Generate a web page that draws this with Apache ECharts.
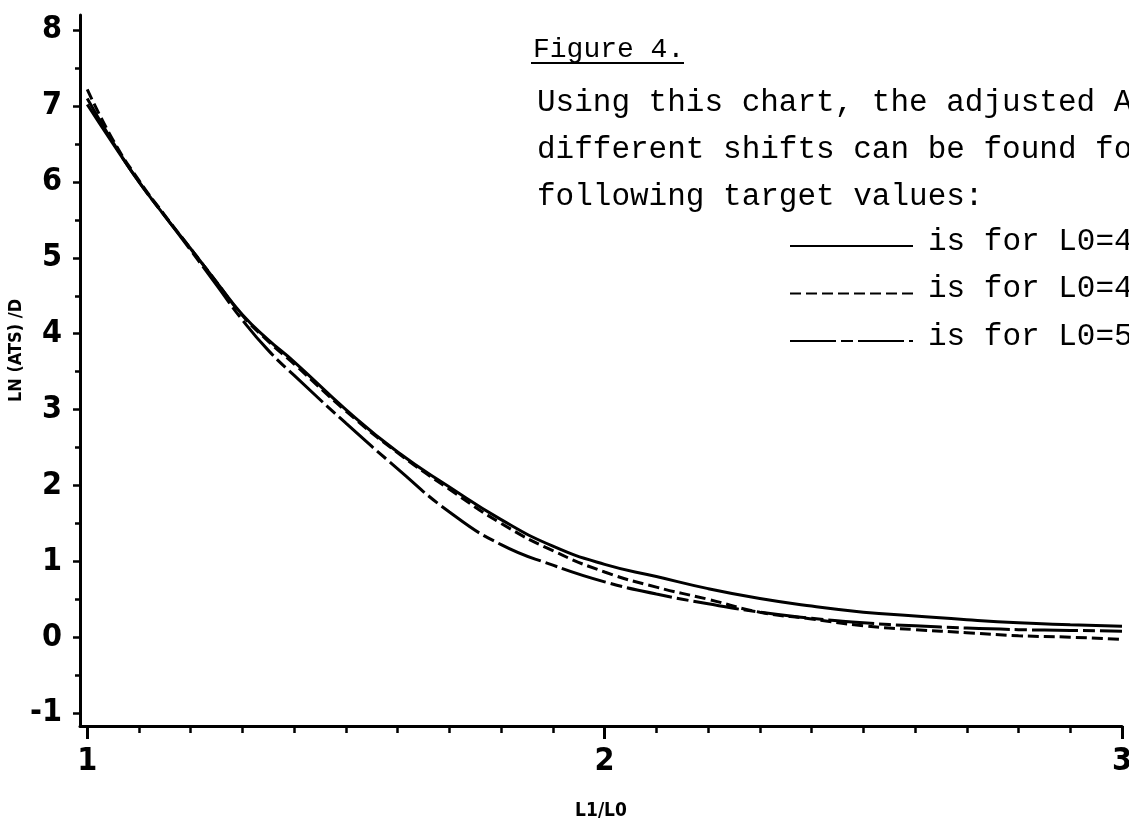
<!doctype html>
<html>
<head>
<meta charset="utf-8">
<script src="https://cdn.jsdelivr.net/npm/echarts@6/dist/echarts.min.js"></script>
<style>
    html, body {margin: 0; padding: 0; background: #fff;}
    #chart {width: 1129px; height: 840px;}
</style>
</head>
<body>
<div id="chart"></div>
<script>
    // values
    var xs      = [1.0, 1.05, 1.1, 1.15, 1.2, 1.25, 1.3, 1.35, 1.4, 1.5, 1.6, 1.7, 1.8, 1.9, 2.0, 2.1, 2.2, 2.3, 2.4, 2.5, 2.6, 2.7, 2.8, 2.9, 3.0];
    var solidY  = [7.02, 6.5, 6.0, 5.55, 5.12, 4.68, 4.25, 3.92, 3.63, 3.0, 2.44, 1.98, 1.55, 1.2, 0.96, 0.8, 0.64, 0.51, 0.41, 0.33, 0.28, 0.23, 0.19, 0.165, 0.145];
    var dashY   = [7.22, 6.55, 6.02, 5.56, 5.12, 4.68, 4.24, 3.9, 3.6, 2.98, 2.43, 1.95, 1.5, 1.14, 0.86, 0.66, 0.5, 0.33, 0.24, 0.15, 0.1, 0.06, 0.02, 0.0, -0.03];
    var longY   = [7.1, 6.52, 6.0, 5.55, 5.1, 4.64, 4.18, 3.78, 3.45, 2.82, 2.22, 1.65, 1.22, 0.95, 0.73, 0.57, 0.44, 0.33, 0.25, 0.19, 0.15, 0.12, 0.1, 0.09, 0.08];

    var xMajor  = [1, 2, 3];
    var xMinor  = [1.1, 1.2, 1.3, 1.4, 1.5, 1.6, 1.7, 1.8, 1.9, 2.1, 2.2, 2.3, 2.4, 2.5, 2.6, 2.7, 2.8, 2.9];
    var yMajor  = [-1, 0, 1, 2, 3, 4, 5, 6, 7, 8];
    var yMinor  = [-0.5, 0.5, 1.5, 2.5, 3.5, 4.5, 5.5, 6.5, 7.5];

    var noteLines = ['Using this chart, the adjusted ATS for', 'different shifts can be found for the', 'following target values:'];
    var legendText = ['is for L0=4', 'is for L0=4', 'is for L0=5'];

    function pairs(ys) {
        var out = [];
        for (var i = 0; i < xs.length; i++) out.push([xs[i], ys[i]]);
        return out;
    }

    var axisFont = '"Liberation Sans Narrow", "DejaVu Sans Condensed", sans-serif';
    var mono = '"Liberation Mono", "DejaVu Sans Mono", monospace';
    var lineW = 3;

    var dashes = [null, [11, 5], [46, 5, 12, 5]];

    var gfx = [
        {type: 'text', left: 533, top: 36, style: {text: 'Figure 4.', font: '28px ' + mono, fill: '#000'}},
        {type: 'line', shape: {x1: 531, y1: 63, x2: 684, y2: 63}, style: {stroke: '#000', lineWidth: 2}}
    ];
    for (var i = 0; i < noteLines.length; i++) {
        gfx.push({type: 'text', left: 537, top: 87 + i * 47, style: {text: noteLines[i], font: '31px ' + mono, fill: '#000'}});
    }
    for (var j = 0; j < legendText.length; j++) {
        var ly = 246 + j * 47.5;
        gfx.push({type: 'line', shape: {x1: 790, y1: ly, x2: 913, y2: ly},
            style: {stroke: '#000', lineWidth: 2.2, lineDash: dashes[j]}});
        gfx.push({type: 'text', left: 928, top: ly - 20, style: {text: legendText[j], font: '31px ' + mono, fill: '#000'}});
    }

    var dom = document.getElementById('chart');
    var myChart = echarts.init(dom);
    var option = {
        backgroundColor: '#fff',
        animation: false,
        grid: {left: 80, right: 7, top: 15, bottom: 114, outerBoundsMode: 'none'},
        xAxis: [
            {
                type: 'value', min: 0.986, max: 3,
                name: 'L1/L0', nameLocation: 'middle', nameGap: 76,
                nameTextStyle: {fontFamily: axisFont, fontWeight: 'bold', fontSize: 19, color: '#000'},
                axisLine: {onZero: false, lineStyle: {color: '#000', width: 3}},
                axisTick: {customValues: xMajor, length: 13, lineStyle: {color: '#000', width: 3}},
                axisLabel: {customValues: xMajor, margin: 20, color: '#000', fontFamily: axisFont, fontWeight: 'bold', fontSize: 32},
                splitLine: {show: false}
            },
            {
                type: 'value', min: 0.986, max: 3, position: 'bottom',
                axisLine: {show: false, onZero: false},
                axisTick: {customValues: xMinor, length: 7, lineStyle: {color: '#000', width: 2.5}},
                axisLabel: {show: false},
                splitLine: {show: false}
            }
        ],
        yAxis: [
            {
                type: 'value', min: -1.17, max: 8.2,
                name: 'LN (ATS) /D', nameLocation: 'middle', nameGap: 55, nameMoveOverlap: false,
                nameTextStyle: {fontFamily: axisFont, fontWeight: 'bold', fontSize: 18, color: '#000', padding: [0, 0, 0, 40]},
                axisLine: {onZero: false, lineStyle: {color: '#000', width: 3}},
                axisTick: {customValues: yMajor, length: 7, lineStyle: {color: '#000', width: 2.5}},
                axisLabel: {customValues: yMajor, margin: 18, color: '#000', fontFamily: axisFont, fontWeight: 'bold', fontSize: 32},
                splitLine: {show: false}
            },
            {
                type: 'value', min: -1.17, max: 8.2, position: 'left',
                axisLine: {show: false, onZero: false},
                axisTick: {customValues: yMinor, length: 5, lineStyle: {color: '#000', width: 2.5}},
                axisLabel: {show: false},
                splitLine: {show: false}
            }
        ],
        series: [
            {name: 'solid', type: 'line', smooth: true, symbol: 'none', data: pairs(solidY),
                lineStyle: {color: '#000', width: lineW, type: 'solid'}},
            {name: 'dash', type: 'line', smooth: true, symbol: 'none', data: pairs(dashY),
                lineStyle: {color: '#000', width: lineW, type: dashes[1]}},
            {name: 'long', type: 'line', smooth: true, symbol: 'none', data: pairs(longY),
                lineStyle: {color: '#000', width: lineW, type: dashes[2]}}
        ],
        graphic: gfx
    };
    myChart.setOption(option, true);
</script>
</body>
</html>
